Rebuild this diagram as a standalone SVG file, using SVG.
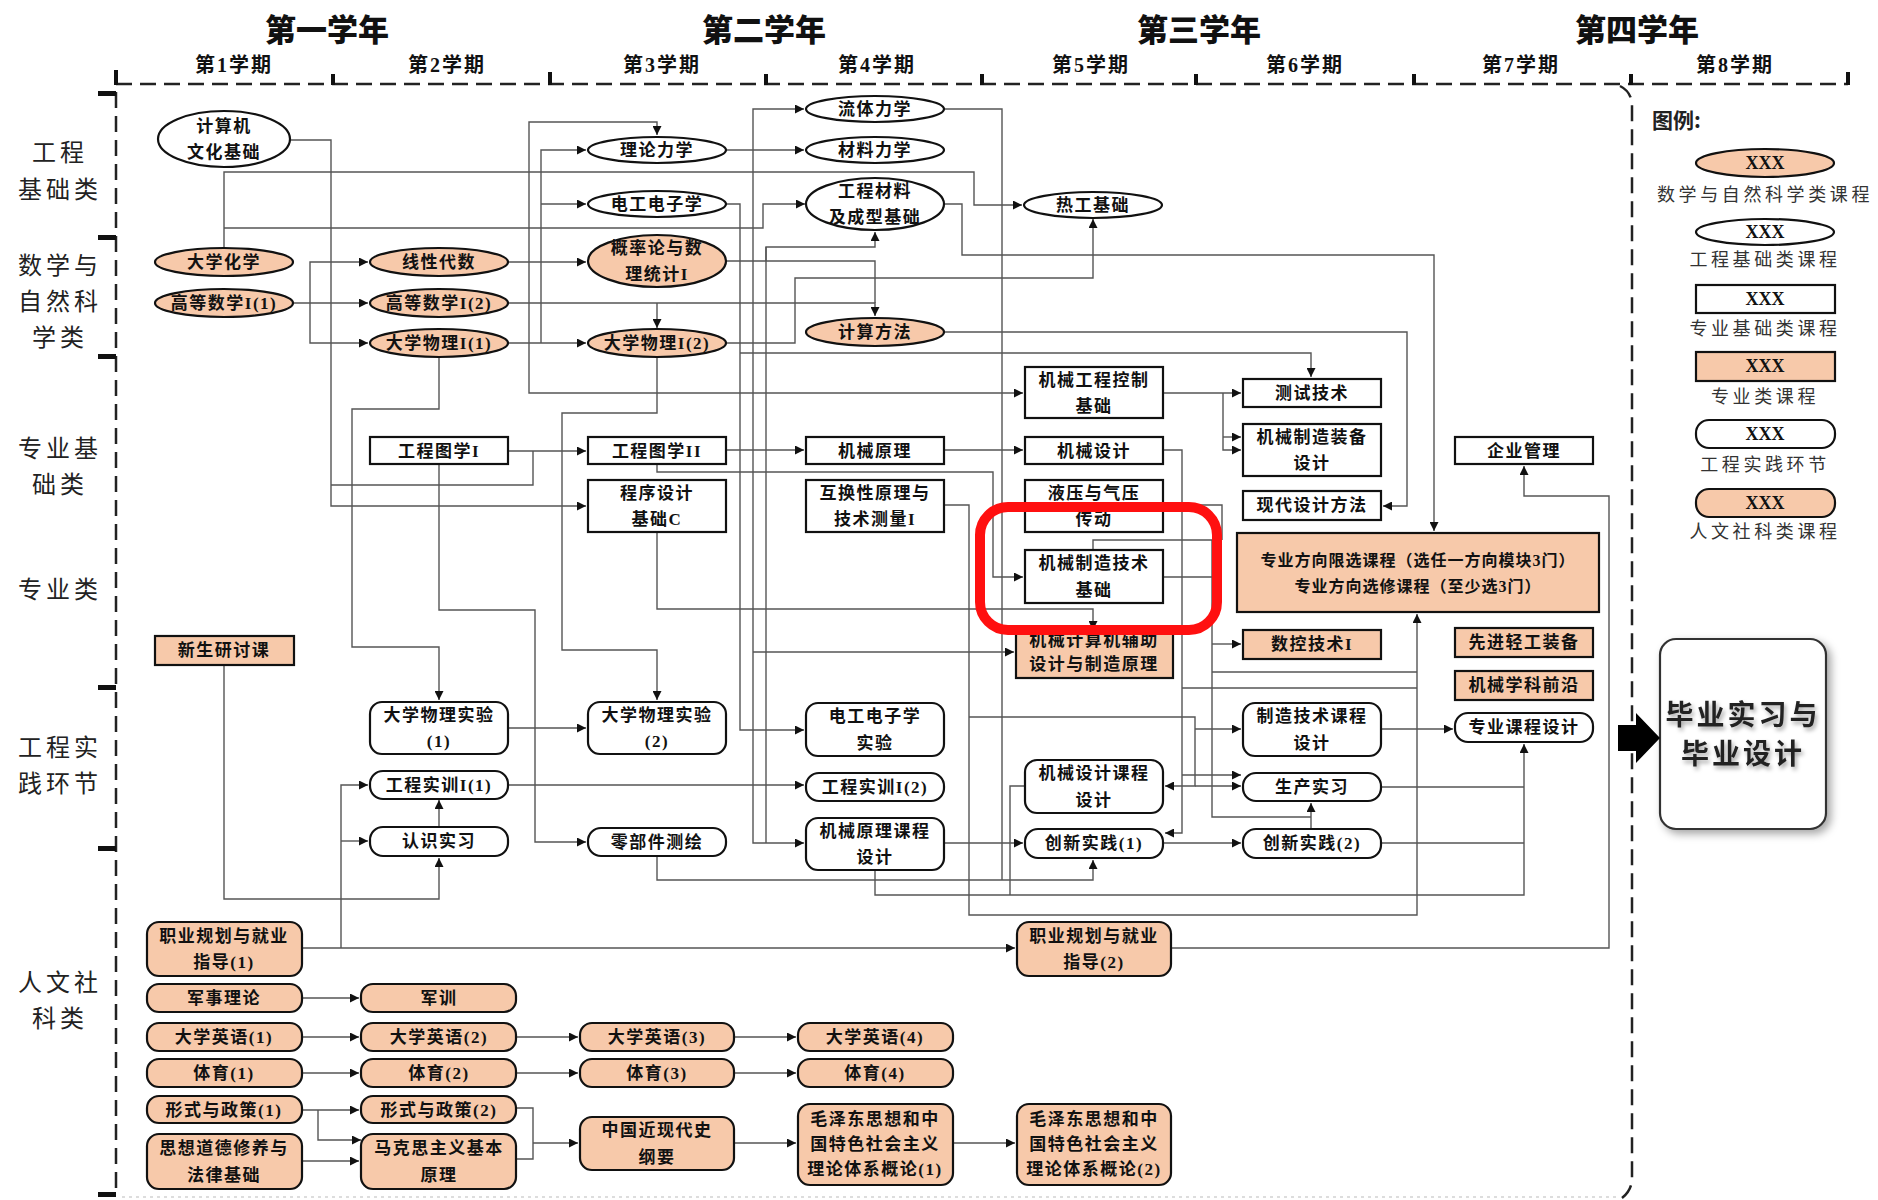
<svg xmlns="http://www.w3.org/2000/svg" width="1878" height="1200" viewBox="0 0 1878 1200">
<defs>
<style>
.n{fill:#fff;stroke:#111;stroke-width:2.2}
.p{fill:#F7C9AA;stroke:#111;stroke-width:2.2}
.c{fill:none;stroke:#555;stroke-width:1.4}
.t{font-family:"Liberation Serif","Noto Sans CJK SC",serif;font-weight:700;font-size:17px;text-anchor:middle;dominant-baseline:central;letter-spacing:1.5px;fill:#111}
.yr{font-family:"Noto Sans CJK SC",sans-serif;font-weight:900;font-size:31px;text-anchor:middle;fill:#111}
.sem{font-family:"Liberation Serif","Noto Sans CJK SC",serif;font-weight:700;font-size:20px;text-anchor:middle;letter-spacing:2px;fill:#111}
.cat{font-family:"Noto Sans CJK SC",sans-serif;font-size:24px;text-anchor:middle;dominant-baseline:central;letter-spacing:4px;fill:#222}
.lg{font-family:"Noto Sans CJK SC",sans-serif;font-size:18px;text-anchor:middle;dominant-baseline:central;letter-spacing:3.6px;fill:#333}
.x{font-family:"Liberation Serif",serif;font-weight:700;font-size:18px;text-anchor:middle;dominant-baseline:central;fill:#111}
.dash{fill:none;stroke:#222;stroke-width:2.5;stroke-dasharray:16 8}
.tick{fill:#111}
</style>
<marker id="ar" viewBox="0 0 10 10" refX="10" refY="5" markerWidth="9" markerHeight="9" markerUnits="userSpaceOnUse" orient="auto">
<path d="M0,0 L10,5 L0,10 z" fill="#111"/>
</marker>
<filter id="sh" x="-20%" y="-20%" width="140%" height="140%">
<feDropShadow dx="4" dy="4" stdDeviation="4" flood-color="#000" flood-opacity="0.35"/>
</filter>
<filter id="tsh" x="-10%" y="-30%" width="120%" height="160%">
<feDropShadow dx="2" dy="3" stdDeviation="2" flood-color="#000" flood-opacity="0.35"/>
</filter>
</defs>
<rect width="1878" height="1200" fill="#fff"/>

<!-- headers -->
<g id="headers">
<text class="yr" x="327" y="41">第一学年</text>
<text class="yr" x="764" y="41">第二学年</text>
<text class="yr" x="1199" y="41">第三学年</text>
<text class="yr" x="1637" y="41">第四学年</text>
<text class="sem" x="234" y="72">第1学期</text>
<text class="sem" x="447" y="72">第2学期</text>
<text class="sem" x="662" y="72">第3学期</text>
<text class="sem" x="877" y="72">第4学期</text>
<text class="sem" x="1091" y="72">第5学期</text>
<text class="sem" x="1305" y="72">第6学期</text>
<text class="sem" x="1521" y="72">第7学期</text>
<text class="sem" x="1735" y="72">第8学期</text>
</g>

<!-- frame -->
<g id="frame">
<path class="dash" d="M116,84 H1848"/>
<path class="dash" d="M116,92 V1196"/>
<path class="dash" d="M1620,86 Q1632,92 1632,106 V1178 Q1632,1190 1622,1198"/>
<path d="M122,1197 H1620" fill="none" stroke="#bbb" stroke-width="1.2" stroke-dasharray="3 4"/>
<rect class="tick" x="114" y="70" width="4" height="15"/>
<rect class="tick" x="331" y="74" width="4" height="11"/>
<rect class="tick" x="548" y="72" width="4" height="13"/>
<rect class="tick" x="764" y="74" width="4" height="11"/>
<rect class="tick" x="980" y="74" width="4" height="11"/>
<rect class="tick" x="1194" y="74" width="4" height="11"/>
<rect class="tick" x="1412" y="74" width="4" height="11"/>
<rect class="tick" x="1629" y="74" width="4" height="11"/>
<rect class="tick" x="1846" y="72" width="4" height="13"/>
<rect class="tick" x="98" y="91" width="18" height="5"/>
<rect class="tick" x="98" y="235" width="18" height="5"/>
<rect class="tick" x="98" y="354" width="18" height="5"/>
<rect class="tick" x="98" y="685" width="18" height="5"/>
<rect class="tick" x="98" y="846" width="18" height="5"/>
<rect class="tick" x="98" y="1192" width="18" height="5"/>
</g>

<!-- category labels -->
<g id="categories">
<text class="cat" x="60" y="150">工程</text>
<text class="cat" x="60" y="187">基础类</text>
<text class="cat" x="60" y="263">数学与</text>
<text class="cat" x="60" y="299">自然科</text>
<text class="cat" x="60" y="335">学类</text>
<text class="cat" x="60" y="446">专业基</text>
<text class="cat" x="60" y="482">础类</text>
<text class="cat" x="60" y="587">专业类</text>
<text class="cat" x="60" y="745">工程实</text>
<text class="cat" x="60" y="781">践环节</text>
<text class="cat" x="60" y="980">人文社</text>
<text class="cat" x="60" y="1016">科类</text>
</g>

<!-- connectors -->
<g id="connectors">
<path class="c" d="M294,303 H368" marker-end="url(#ar)"/>
<path class="c" d="M310,303 V262 H368" marker-end="url(#ar)"/>
<path class="c" d="M310,303 V343 H368" marker-end="url(#ar)"/>
<path class="c" d="M290,140 H331 V506 H586" marker-end="url(#ar)"/>
<path class="c" d="M331,485 H533 V451"/>
<path class="c" d="M508,451 H586" marker-end="url(#ar)"/>
<path class="c" d="M224,248 V172 H974 V205 H1022" marker-end="url(#ar)"/>
<path class="c" d="M224,228 H763 V204 H805" marker-end="url(#ar)"/>
<path class="c" d="M508,303 H875 V316" marker-end="url(#ar)"/>
<path class="c" d="M657,303 V328" marker-end="url(#ar)"/>
<path class="c" d="M726,261 H875 V303"/>
<path class="c" d="M529,303 V122 H657 V135" marker-end="url(#ar)"/>
<path class="c" d="M529,303 V393 H1023" marker-end="url(#ar)"/>
<path class="c" d="M508,343 H586" marker-end="url(#ar)"/>
<path class="c" d="M541,343 V150 H586" marker-end="url(#ar)"/>
<path class="c" d="M541,204 H586" marker-end="url(#ar)"/>
<path class="c" d="M508,262 H586" marker-end="url(#ar)"/>
<path class="c" d="M726,150 H804" marker-end="url(#ar)"/>
<path class="c" d="M753,303 V109 H804" marker-end="url(#ar)"/>
<path class="c" d="M753,303 V843 H804" marker-end="url(#ar)"/>
<path class="c" d="M753,652 H1014" marker-end="url(#ar)"/>
<path class="c" d="M766,261 V247 H875 V232" marker-end="url(#ar)"/>
<path class="c" d="M766,247 V843"/>
<path class="c" d="M726,450 H804" marker-end="url(#ar)"/>
<path class="c" d="M726,204 H740 V730 H804" marker-end="url(#ar)"/>
<path class="c" d="M740,353 H1311 V377" marker-end="url(#ar)"/>
<path class="c" d="M726,343 H795 V278 H1093 V219" marker-end="url(#ar)"/>
<path class="c" d="M944,204 H962 V255 H1434 V531" marker-end="url(#ar)"/>
<path class="c" d="M944,332 H1407 V506 H1383" marker-end="url(#ar)"/>
<path class="c" d="M439,357 V409 H352 V647 H439 V700" marker-end="url(#ar)"/>
<path class="c" d="M657,357 V413 H562 V650 H657 V700" marker-end="url(#ar)"/>
<path class="c" d="M439,464 V610 H535 V842 H586" marker-end="url(#ar)"/>
<path class="c" d="M657,464 V472 H993 V577 H1023" marker-end="url(#ar)"/>
<path class="c" d="M944,450 H1023" marker-end="url(#ar)"/>
<path class="c" d="M944,505 H969 V915 H1417 V614" marker-end="url(#ar)"/>
<path class="c" d="M969,717 H1195 V786 H1165" marker-end="url(#ar)"/>
<path class="c" d="M1195,786 H1241" marker-end="url(#ar)"/>
<path class="c" d="M1195,729 H1241" marker-end="url(#ar)"/>
<path class="c" d="M657,532 V609 H1093 V630" marker-end="url(#ar)"/>
<path class="c" d="M508,785 H804" marker-end="url(#ar)"/>
<path class="c" d="M508,728 H586" marker-end="url(#ar)"/>
<path class="c" d="M944,843 H1023" marker-end="url(#ar)"/>
<path class="c" d="M657,856 V880 H1093 V860" marker-end="url(#ar)"/>
<path class="c" d="M875,870 V895 H1524 V744" marker-end="url(#ar)"/>
<path class="c" d="M1163,843 H1241" marker-end="url(#ar)"/>
<path class="c" d="M1163,450 H1182 V833 H1165" marker-end="url(#ar)"/>
<path class="c" d="M1182,688 H1417"/>
<path class="c" d="M1182,775 H1241" marker-end="url(#ar)"/>
<path class="c" d="M1025,786 H1010 V895"/>
<path class="c" d="M1381,729 H1453" marker-end="url(#ar)"/>
<path class="c" d="M1381,787 H1524"/>
<path class="c" d="M1381,843 H1524"/>
<path class="c" d="M1311,829 V803" marker-end="url(#ar)"/>
<path class="c" d="M1093,550 V540 H1212 V817 H1311"/>
<path class="c" d="M1212,644 H1241" marker-end="url(#ar)"/>
<path class="c" d="M1212,672 H1417"/>
<path class="c" d="M1163,577 H1212"/>
<path class="c" d="M1163,505 H1222 V540"/>
<path class="c" d="M1163,393 H1241" marker-end="url(#ar)"/>
<path class="c" d="M1223,393 V450 H1241" marker-end="url(#ar)"/>
<path class="c" d="M1223,437 H1241" marker-end="url(#ar)"/>
<path class="c" d="M944,109 H1002 V880"/>
<path class="c" d="M1171,948 H1609 V496 H1524 V466" marker-end="url(#ar)"/>
<path class="c" d="M302,948 H1015" marker-end="url(#ar)"/>
<path class="c" d="M341,948 V785 H368" marker-end="url(#ar)"/>
<path class="c" d="M341,841 H368" marker-end="url(#ar)"/>
<path class="c" d="M224,665 V899 H439 V858" marker-end="url(#ar)"/>
<path class="c" d="M439,827 V800" marker-end="url(#ar)"/>
<path class="c" d="M302,998 H359" marker-end="url(#ar)"/>
<path class="c" d="M302,1037 H359" marker-end="url(#ar)"/>
<path class="c" d="M516,1037 H578" marker-end="url(#ar)"/>
<path class="c" d="M734,1037 H796" marker-end="url(#ar)"/>
<path class="c" d="M302,1073 H359" marker-end="url(#ar)"/>
<path class="c" d="M516,1073 H578" marker-end="url(#ar)"/>
<path class="c" d="M734,1073 H796" marker-end="url(#ar)"/>
<path class="c" d="M302,1110 H359" marker-end="url(#ar)"/>
<path class="c" d="M318,1110 V1140 H361" marker-end="url(#ar)"/>
<path class="c" d="M302,1161 H359" marker-end="url(#ar)"/>
<path class="c" d="M516,1108 H533 V1159 H516"/>
<path class="c" d="M533,1143 H578" marker-end="url(#ar)"/>
<path class="c" d="M734,1143 H796" marker-end="url(#ar)"/>
<path class="c" d="M953,1143 H1015" marker-end="url(#ar)"/>
</g>

<!-- engineering basics -->
<g id="n_jsj"><ellipse class="n" cx="224" cy="139" rx="66" ry="28"/><text class="t" x="224" y="126">计算机</text><text class="t" x="224" y="152">文化基础</text></g>
<g id="n_ltlx"><ellipse class="n" cx="875" cy="109" rx="69" ry="13"/><text class="t" x="875" y="109">流体力学</text></g>
<g id="n_llx"><ellipse class="n" cx="657" cy="150" rx="69" ry="13"/><text class="t" x="657" y="150">理论力学</text></g>
<g id="n_clx"><ellipse class="n" cx="875" cy="150" rx="69" ry="13"/><text class="t" x="875" y="150">材料力学</text></g>
<g id="n_dg"><ellipse class="n" cx="657" cy="204" rx="69" ry="13"/><text class="t" x="657" y="204">电工电子学</text></g>
<g id="n_gccl"><ellipse class="n" cx="875" cy="204" rx="69" ry="26"/><text class="t" x="875" y="191">工程材料</text><text class="t" x="875" y="217">及成型基础</text></g>
<g id="n_rg"><ellipse class="n" cx="1093" cy="205" rx="69" ry="13"/><text class="t" x="1093" y="205">热工基础</text></g>

<!-- math & science -->
<g id="n_dxhx"><ellipse class="p" cx="224" cy="262" rx="69" ry="14"/><text class="t" x="224" y="262">大学化学</text></g>
<g id="n_xxds"><ellipse class="p" cx="439" cy="262" rx="69" ry="14"/><text class="t" x="439" y="262">线性代数</text></g>
<g id="n_gl"><ellipse class="p" cx="657" cy="261" rx="69" ry="26"/><text class="t" x="657" y="248">概率论与数</text><text class="t" x="657" y="274">理统计I</text></g>
<g id="n_gs1"><ellipse class="p" cx="224" cy="303" rx="69" ry="14"/><text class="t" x="224" y="303">高等数学I(1)</text></g>
<g id="n_gs2"><ellipse class="p" cx="439" cy="303" rx="69" ry="14"/><text class="t" x="439" y="303">高等数学I(2)</text></g>
<g id="n_wl1"><ellipse class="p" cx="439" cy="343" rx="69" ry="14"/><text class="t" x="439" y="343">大学物理I(1)</text></g>
<g id="n_wl2"><ellipse class="p" cx="657" cy="343" rx="69" ry="14"/><text class="t" x="657" y="343">大学物理I(2)</text></g>
<g id="n_jsff"><ellipse class="p" cx="875" cy="332" rx="69" ry="14"/><text class="t" x="875" y="332">计算方法</text></g>

<!-- professional basics -->
<g id="n_tx1"><rect class="n" x="370" y="437" width="138" height="27"/><text class="t" x="439" y="451">工程图学I</text></g>
<g id="n_tx2"><rect class="n" x="588" y="437" width="138" height="27"/><text class="t" x="657" y="451">工程图学II</text></g>
<g id="n_cx"><rect class="n" x="588" y="480" width="138" height="52"/><text class="t" x="657" y="493">程序设计</text><text class="t" x="657" y="519">基础C</text></g>
<g id="n_jxyl"><rect class="n" x="806" y="437" width="138" height="27"/><text class="t" x="875" y="451">机械原理</text></g>
<g id="n_hhx"><rect class="n" x="806" y="480" width="138" height="52"/><text class="t" x="875" y="493">互换性原理与</text><text class="t" x="875" y="519">技术测量I</text></g>
<g id="n_kz"><rect class="n" x="1025" y="367" width="138" height="51"/><text class="t" x="1094" y="380">机械工程控制</text><text class="t" x="1094" y="406">基础</text></g>
<g id="n_jxsj"><rect class="n" x="1025" y="437" width="138" height="27"/><text class="t" x="1094" y="451">机械设计</text></g>
<g id="n_yy"><rect class="n" x="1025" y="480" width="138" height="52"/><text class="t" x="1094" y="493">液压与气压</text><text class="t" x="1094" y="519">传动</text></g>
<g id="n_zzjs"><rect class="n" x="1025" y="550" width="138" height="53"/><text class="t" x="1094" y="563">机械制造技术</text><text class="t" x="1094" y="590">基础</text></g>
<g id="n_csjs"><rect class="n" x="1243" y="379" width="138" height="28"/><text class="t" x="1312" y="393">测试技术</text></g>
<g id="n_zbsj"><rect class="n" x="1243" y="424" width="138" height="52"/><text class="t" x="1312" y="437">机械制造装备</text><text class="t" x="1312" y="463">设计</text></g>
<g id="n_xdsj"><rect class="n" x="1243" y="491" width="138" height="29"/><text class="t" x="1312" y="505">现代设计方法</text></g>
<g id="n_qygl"><rect class="n" x="1455" y="437" width="138" height="27"/><text class="t" x="1524" y="451">企业管理</text></g>

<!-- professional -->
<g id="n_xsyt"><rect class="p" x="155" y="636" width="139" height="29"/><text class="t" x="224" y="650">新生研讨课</text></g>
<g id="n_cad"><rect class="p" x="1016" y="632" width="157" height="46"/><text class="t" x="1094" y="640">机械计算机辅助</text><text class="t" x="1094" y="664">设计与制造原理</text></g>
<g id="n_fx"><rect class="p" x="1237" y="533" width="362" height="79"/><text class="t" x="1418" y="560" style="font-size:16px;letter-spacing:1px">专业方向限选课程（选任一方向模块3门）</text><text class="t" x="1418" y="586" style="font-size:16px;letter-spacing:1px">专业方向选修课程（至少选3门）</text></g>
<g id="n_sk"><rect class="p" x="1243" y="630" width="138" height="29"/><text class="t" x="1312" y="644">数控技术I</text></g>
<g id="n_xjqg"><rect class="p" x="1455" y="628" width="138" height="29"/><text class="t" x="1524" y="642">先进轻工装备</text></g>
<g id="n_qy"><rect class="p" x="1455" y="671" width="138" height="29"/><text class="t" x="1524" y="685">机械学科前沿</text></g>

<!-- practice -->
<g id="n_wlsy1"><rect class="n" x="370" y="702" width="138" height="52" rx="12"/><text class="t" x="439" y="715">大学物理实验</text><text class="t" x="439" y="741">(1)</text></g>
<g id="n_wlsy2"><rect class="n" x="588" y="702" width="138" height="52" rx="12"/><text class="t" x="657" y="715">大学物理实验</text><text class="t" x="657" y="741">(2)</text></g>
<g id="n_dgsy"><rect class="n" x="806" y="703" width="138" height="53" rx="12"/><text class="t" x="875" y="716">电工电子学</text><text class="t" x="875" y="743">实验</text></g>
<g id="n_sx1"><rect class="n" x="370" y="771" width="138" height="28" rx="13"/><text class="t" x="439" y="785">工程实训I(1)</text></g>
<g id="n_sx2"><rect class="n" x="806" y="773" width="138" height="28" rx="13"/><text class="t" x="875" y="787">工程实训I(2)</text></g>
<g id="n_rssx"><rect class="n" x="370" y="827" width="138" height="29" rx="13"/><text class="t" x="439" y="841">认识实习</text></g>
<g id="n_lbj"><rect class="n" x="588" y="828" width="138" height="28" rx="13"/><text class="t" x="657" y="842">零部件测绘</text></g>
<g id="n_ylkc"><rect class="n" x="806" y="818" width="138" height="52" rx="12"/><text class="t" x="875" y="831">机械原理课程</text><text class="t" x="875" y="857">设计</text></g>
<g id="n_sjkc"><rect class="n" x="1025" y="760" width="138" height="53" rx="12"/><text class="t" x="1094" y="773">机械设计课程</text><text class="t" x="1094" y="800">设计</text></g>
<g id="n_cx1"><rect class="n" x="1025" y="829" width="138" height="29" rx="13"/><text class="t" x="1094" y="843">创新实践(1)</text></g>
<g id="n_zzkc"><rect class="n" x="1243" y="703" width="138" height="53" rx="12"/><text class="t" x="1312" y="716">制造技术课程</text><text class="t" x="1312" y="743">设计</text></g>
<g id="n_scsx"><rect class="n" x="1243" y="773" width="138" height="28" rx="13"/><text class="t" x="1312" y="787">生产实习</text></g>
<g id="n_cx2"><rect class="n" x="1243" y="829" width="138" height="29" rx="13"/><text class="t" x="1312" y="843">创新实践(2)</text></g>
<g id="n_zykc"><rect class="n" x="1455" y="713" width="138" height="29" rx="13"/><text class="t" x="1524" y="727">专业课程设计</text></g>

<!-- graduation -->
<g id="n_bysj"><rect x="1660" y="639" width="166" height="190" rx="16" fill="#fff" stroke="#333" stroke-width="2.2" filter="url(#sh)"/><text x="1743" y="713" filter="url(#tsh)" style="font-family:'Noto Sans CJK SC',sans-serif;font-weight:700;font-size:28px;text-anchor:middle;dominant-baseline:central;letter-spacing:3px;fill:#222">毕业实习与</text><text x="1743" y="752" filter="url(#tsh)" style="font-family:'Noto Sans CJK SC',sans-serif;font-weight:700;font-size:28px;text-anchor:middle;dominant-baseline:central;letter-spacing:3px;fill:#222">毕业设计</text></g>
<g id="bigarrow"><polygon points="1618,725 1636,725 1636,713 1660,738 1636,763 1636,751 1618,751" fill="#000"/></g>

<!-- humanities -->
<g id="n_zy1"><rect class="p" x="147" y="922" width="155" height="54" rx="12"/><text class="t" x="224" y="936">职业规划与就业</text><text class="t" x="224" y="962">指导(1)</text></g>
<g id="n_zy2"><rect class="p" x="1017" y="922" width="154" height="54" rx="12"/><text class="t" x="1094" y="936">职业规划与就业</text><text class="t" x="1094" y="962">指导(2)</text></g>
<g id="n_jsll"><rect class="p" x="147" y="984" width="155" height="28" rx="12"/><text class="t" x="224" y="998">军事理论</text></g>
<g id="n_jx"><rect class="p" x="361" y="984" width="155" height="28" rx="12"/><text class="t" x="439" y="998">军训</text></g>
<g id="n_yy1"><rect class="p" x="147" y="1023" width="155" height="28" rx="12"/><text class="t" x="224" y="1037">大学英语(1)</text></g>
<g id="n_yy2"><rect class="p" x="361" y="1023" width="155" height="28" rx="12"/><text class="t" x="439" y="1037">大学英语(2)</text></g>
<g id="n_yy3"><rect class="p" x="580" y="1023" width="154" height="28" rx="12"/><text class="t" x="657" y="1037">大学英语(3)</text></g>
<g id="n_yy4"><rect class="p" x="798" y="1023" width="155" height="28" rx="12"/><text class="t" x="875" y="1037">大学英语(4)</text></g>
<g id="n_ty1"><rect class="p" x="147" y="1059" width="155" height="28" rx="12"/><text class="t" x="224" y="1073">体育(1)</text></g>
<g id="n_ty2"><rect class="p" x="361" y="1059" width="155" height="28" rx="12"/><text class="t" x="439" y="1073">体育(2)</text></g>
<g id="n_ty3"><rect class="p" x="580" y="1059" width="154" height="28" rx="12"/><text class="t" x="657" y="1073">体育(3)</text></g>
<g id="n_ty4"><rect class="p" x="798" y="1059" width="155" height="28" rx="12"/><text class="t" x="875" y="1073">体育(4)</text></g>
<g id="n_xs1"><rect class="p" x="147" y="1096" width="155" height="27" rx="12"/><text class="t" x="224" y="1110">形式与政策(1)</text></g>
<g id="n_xs2"><rect class="p" x="361" y="1096" width="155" height="27" rx="12"/><text class="t" x="439" y="1110">形式与政策(2)</text></g>
<g id="n_sx"><rect class="p" x="147" y="1134" width="155" height="55" rx="12"/><text class="t" x="224" y="1148">思想道德修养与</text><text class="t" x="224" y="1175">法律基础</text></g>
<g id="n_mk"><rect class="p" x="361" y="1134" width="155" height="55" rx="12"/><text class="t" x="439" y="1148">马克思主义基本</text><text class="t" x="439" y="1175">原理</text></g>
<g id="n_zgjx"><rect class="p" x="580" y="1117" width="154" height="53" rx="12"/><text class="t" x="657" y="1130">中国近现代史</text><text class="t" x="657" y="1157">纲要</text></g>
<g id="n_mg1"><rect class="p" x="798" y="1104" width="155" height="81" rx="12"/><text class="t" x="875" y="1119">毛泽东思想和中</text><text class="t" x="875" y="1144">国特色社会主义</text><text class="t" x="875" y="1169">理论体系概论(1)</text></g>
<g id="n_mg2"><rect class="p" x="1017" y="1104" width="154" height="81" rx="12"/><text class="t" x="1094" y="1119">毛泽东思想和中</text><text class="t" x="1094" y="1144">国特色社会主义</text><text class="t" x="1094" y="1169">理论体系概论(2)</text></g>

<!-- legend -->
<g id="legend">
<text x="1652" y="128" style="font-family:'Noto Sans CJK SC',sans-serif;font-weight:700;font-size:21px;fill:#222">图例:</text>
<ellipse class="p" cx="1765" cy="163" rx="69" ry="14"/><text class="x" x="1765" y="163">XXX</text>
<text class="lg" x="1765" y="193">数学与自然科学类课程</text>
<ellipse class="n" cx="1765" cy="232" rx="69" ry="13"/><text class="x" x="1765" y="232">XXX</text>
<text class="lg" x="1765" y="258">工程基础类课程</text>
<rect class="n" x="1696" y="285" width="139" height="28"/><text class="x" x="1765" y="299">XXX</text>
<text class="lg" x="1765" y="327">专业基础类课程</text>
<rect class="p" x="1696" y="352" width="139" height="29"/><text class="x" x="1765" y="366">XXX</text>
<text class="lg" x="1765" y="395">专业类课程</text>
<rect class="n" x="1696" y="420" width="139" height="28" rx="13"/><text class="x" x="1765" y="434">XXX</text>
<text class="lg" x="1765" y="463">工程实践环节</text>
<rect class="p" x="1696" y="489" width="139" height="28" rx="13"/><text class="x" x="1765" y="503">XXX</text>
<text class="lg" x="1765" y="530">人文社科类课程</text>
</g>

<!-- highlight -->
<g id="highlight"><rect x="980" y="507" width="237" height="123" rx="28" fill="none" stroke="#FF1010" stroke-width="10"/></g>
</svg>
